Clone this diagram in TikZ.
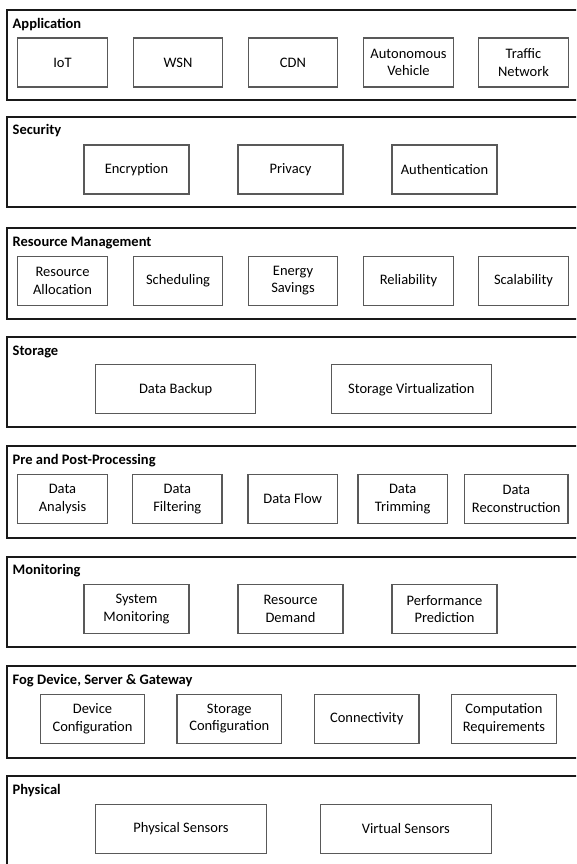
\documentclass[tikz,border=0pt]{standalone}
\usepackage{fontspec}
\setmainfont{Carlito}
\begin{document}
\begin{tikzpicture}[x=1pt,y=-1pt,
  layerbox/.style={draw=black!90,line width=1.8pt},
  layertitle/.style={anchor=base west,inner sep=0pt,font=\fontsize{14.5}{17.5}\selectfont\bfseries},
  item/.style={draw=black!65,line width=1.2pt,align=center,inner sep=0pt,
    font=\fontsize{14.5}{17.5}\selectfont,minimum height=49pt},
  iA/.style={item,minimum width=89.5pt},
  iS/.style={item,minimum width=105pt},
  iW/.style={item,minimum width=160pt},
  iF/.style={item,minimum width=104.5pt},
  iP/.style={item,minimum width=171pt}]
\useasboundingbox (0,0) rectangle (576,864);
\clip (0,0) rectangle (576,864);
% layers
\draw[layerbox] (6.7,10) rectangle (585,100);
\draw[layerbox] (6.7,117) rectangle (585,207);
\draw[layerbox] (6.7,228.3) rectangle (585,319);
\draw[layerbox] (6.7,336.7) rectangle (585,427.3);
\draw[layerbox] (6.7,446) rectangle (585,537.7);
\draw[layerbox] (6.7,556.7) rectangle (585,647.3);
\draw[layerbox] (6.7,666) rectangle (585,757.7);
\draw[layerbox] (6.7,776) rectangle (585,880);
% titles
\node[layertitle] (tApp) at (12.5,28.3) {Application};
\node[layertitle] (tSec) at (12.5,135) {Security};
\node[layertitle] (tRes) at (12.5,246.6) {Resource Management};
\node[layertitle] (tSto) at (12.5,355) {Storage};
\node[layertitle] (tPre) at (12.5,464.5) {Pre and Post-Processing};
\node[layertitle] (tMon) at (12.5,574.5) {Monitoring};
\node[layertitle] (tFog) at (12.5,684.5) {Fog Device, Server \& Gateway};
\node[layertitle] (tPhy) at (12.5,794.5) {Physical};
% Application
\node[iA] (iot) at (62.5,62.5) {IoT};
\node[iA] (wsn) at (178,62.5) {WSN};
\node[iA] (cdn) at (293,62.5) {CDN};
\node[iA] (av) at (408.5,62.5) {Autonomous\\Vehicle};
\node[iA] (tn) at (523.5,62.5) {Traffic\\Network};
% Security
\node[iS] (enc) at (136.5,169.5) {Encryption};
\node[iS] (pri) at (290.5,169.5) {Privacy};
\node[iS] (aut) at (444.5,169.5) {Authentication};
% Resource management
\node[iA] (ra) at (62.5,280.7) {Resource\\Allocation};
\node[iA] (sch) at (178,280.7) {Scheduling};
\node[iA] (es) at (293,280.7) {Energy\\Savings};
\node[iA] (rel) at (408.5,280.7) {Reliability};
\node[iA] (sca) at (523.5,280.7) {Scalability};
% Storage
\node[iW] (db) at (175.7,389.3) {Data Backup};
\node[iW] (sv) at (411.3,389.3) {Storage Virtualization};
% Pre and post
\node[iA] (da) at (62.5,499) {Data\\Analysis};
\node[iA] (df) at (177.3,499) {Data\\Filtering};
\node[iA] (dfl) at (292.7,499) {Data Flow};
\node[iA] (dt) at (402.7,499) {Data\\Trimming};
\node[item,minimum width=103.3pt] (dr) at (516.3,499) {Data\\Reconstruction};
% Monitoring
\node[iS] (sm) at (136.5,609) {System\\Monitoring};
\node[iS] (rd) at (290.5,609) {Resource\\Demand};
\node[iS] (pp) at (444.5,609) {Performance\\Prediction};
% Fog
\node[iF] (dc) at (92.5,718.7) {Device\\Configuration};
\node[iF] (sc) at (229.3,718.7) {Storage\\Configuration};
\node[iF] (con) at (366.7,718.7) {Connectivity};
\node[iF] (cr) at (504,718.7) {Computation\\Requirements};
% Physical
\node[iP] (ps) at (181,829) {Physical Sensors};
\node[iP] (vs) at (405.8,829) {Virtual Sensors};
\end{tikzpicture}
\end{document}
